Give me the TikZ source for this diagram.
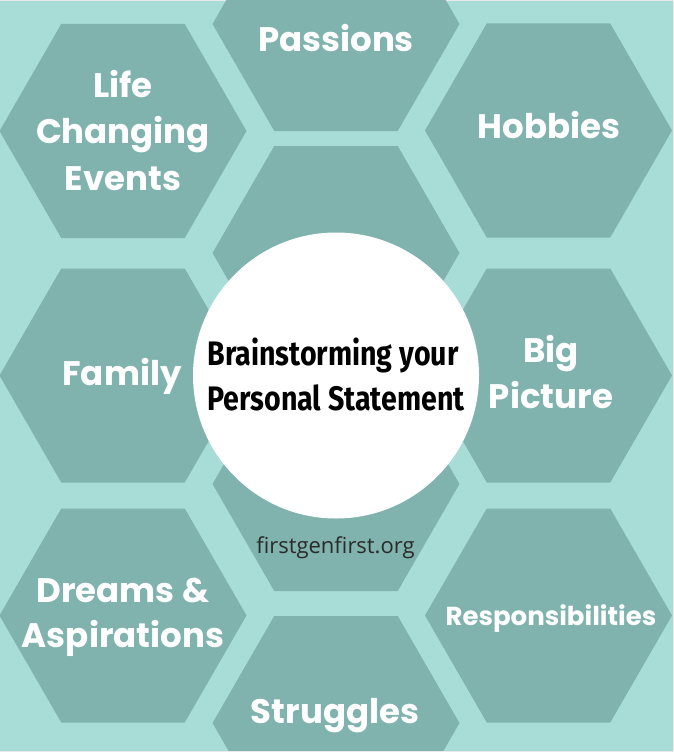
\documentclass[tikz,border=0pt]{standalone}
\usepackage{fontspec}
\newfontfamily\hexfont{Poppins}
\newfontfamily\ctrfont{Fira Sans}[FakeStretch=0.84]
\newfontfamily\urlfont{Open Sans}
\definecolor{bgteal}{HTML}{A8DCD7}
\definecolor{hexteal}{HTML}{80B3AE}
\definecolor{framegray}{HTML}{E9E9E9}
\definecolor{urlgray}{HTML}{2A2A2A}
\tikzset{
  hexlabel/.style={text=white, font=\hexfont\bfseries\fontsize{34}{40}\selectfont, inner sep=0pt, anchor=base},
  smalllabel/.style={hexlabel, font=\hexfont\bfseries\fontsize{26}{30}\selectfont},
  ctrlabel/.style={text=black, font=\ctrfont\bfseries\fontsize{34}{40}\selectfont, inner sep=0pt, anchor=base},
  urllabel/.style={text=urlgray, font=\urlfont\fontsize{22}{26}\selectfont, inner sep=0pt, anchor=base}
}
\newcommand{\hexat}[3]{%
  \fill[hexteal] (#1-123.5,#2) -- (#1-61.75,#2-107) -- (#1+61.75,#2-107) -- (#1+123.5,#2)
     -- (#1+61.75,#2+107) -- (#1-61.75,#2+107) -- cycle;
  \coordinate (#3) at (#1,#2);}
\begin{document}
\begin{tikzpicture}[x=1pt,y=-1pt]
\fill[framegray] (0,0) rectangle (674,752);
\useasboundingbox (0,0) rectangle (674,752);
\fill[bgteal] (0,1) rectangle (672.7,750.7);
\begin{scope}
\clip (0,1) rectangle (672.7,750.7);
\hexat{123}{131}{life}
\hexat{123}{375.5}{family}
\hexat{123}{615.5}{dreams}
\hexat{336}{24}{passions}
\hexat{336}{253}{midtop}
\hexat{336}{484}{midbot}
\hexat{336}{723}{struggles}
\hexat{548.5}{130.5}{hobbies}
\hexat{548.5}{375.5}{bigpic}
\hexat{548.5}{615.5}{resp}
\end{scope}
\fill[white] (336,375.5) circle (143);
\node[circle, minimum size=286pt, inner sep=0pt] (centre) at (336,375.5) {};
% labels
\node[hexlabel] (lpass) at (336,52) {Passions};
\node[hexlabel] (llife1) at (123,97) {Life};
\node[hexlabel] (llife2) at (123,143) {Changing};
\node[hexlabel] (llife3) at (123,190) {Events};
\node[hexlabel] (lhob) at (549,138) {Hobbies};
\node[hexlabel] (lfam) at (122,385) {Family};
\node[hexlabel] (lbig1) at (551,362) {Big};
\node[hexlabel] (lbig2) at (551,408) {Picture};
\node[hexlabel] (ldr1) at (123,602) {Dreams \&};
\node[hexlabel] (ldr2) at (123,647) {Aspirations};
\node[smalllabel] (lresp) at (551,625) {Responsibilities};
\node[hexlabel] (lstr) at (335,723) {Struggles};
\node[ctrlabel] (c1) at (333,365) {Brainstorming your};
\node[ctrlabel] (c2) at (336,410) {Personal Statement};
\node[urllabel] (url) at (335.5,553) {firstgenfirst.org};
\end{tikzpicture}
\end{document}
